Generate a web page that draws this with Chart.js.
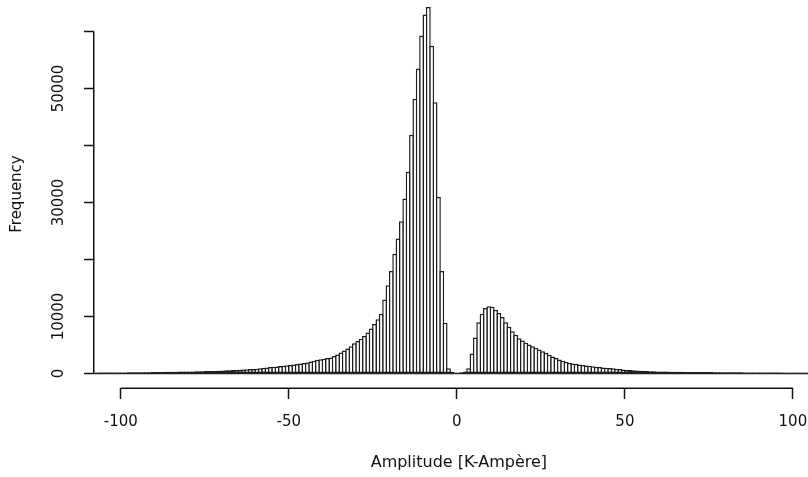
<!DOCTYPE html>
<html>
<head>
<meta charset="utf-8">
<script src="https://cdn.jsdelivr.net/npm/chart.js@4.4.1/dist/chart.umd.min.js"></script>
<style>
  html, body { margin: 0; padding: 0; background: #ffffff; overflow: hidden; }
  #wrap { width: 808px; height: 477px; }
</style>
</head>
<body>
<div id="wrap"><canvas id="c" width="808" height="477"></canvas></div>
<script>
// ---- data (histogram, bin width 1 kA, first bin starts at -108) ----
const binStart = -108;
const binWidth = 1;
const counts = [
  // -108 .. -101
  150, 155, 160, 165, 170, 175, 180, 185,
  // -100 .. -91
  190, 195, 200, 205, 210, 215, 220, 230, 240, 250,
  // -90 .. -81
  260, 270, 280, 290, 300, 310, 320, 330, 340, 350,
  // -80 .. -71
  360, 370, 380, 395, 410, 425, 440, 460, 480, 500,
  // -70 .. -61
  520, 550, 580, 610, 640, 670, 700, 740, 770, 810,
  // -60 .. -51
  850, 920, 1000, 1060, 1120, 1180, 1240, 1300, 1370, 1430,
  // -50 .. -41
  1500, 1580, 1660, 1750, 1850, 1950, 2100, 2250, 2400, 2500,
  // -40 .. -31
  2600, 2700, 2800, 3050, 3350, 3700, 4050, 4400, 4800, 5300,
  // -30 .. -21
  5700, 6100, 6600, 7200, 7900, 8700, 9500, 10500, 13000, 15500,
  // -20 .. -11
  18000, 21000, 23700, 26700, 30700, 35400, 41900, 48200, 53500, 59300,
  // -10 .. -1
  63000, 64300, 57500, 47600, 31000, 18000, 8900, 900, 300, 150,
  // 0 .. 9
  150, 200, 350, 900, 3500, 6300, 9000, 10500, 11500, 11800,
  // 10 .. 19
  11700, 11200, 10600, 9900, 9000, 8200, 7400, 6800, 6200, 5800,
  // 20 .. 29
  5400, 5100, 4800, 4500, 4200, 3900, 3600, 3300, 3000, 2700,
  // 30 .. 39
  2450, 2250, 2050, 1900, 1750, 1650, 1580, 1500, 1420, 1340,
  // 40 .. 49
  1250, 1180, 1120, 1060, 1000, 950, 900, 840, 780, 720,
  // 50 .. 59
  670, 620, 580, 540, 500, 470, 440, 410, 390, 370,
  // 60 .. 69
  350, 340, 330, 320, 310, 300, 290, 285, 280, 275,
  // 70 .. 79
  270, 265, 260, 255, 250, 245, 240, 235, 230, 225,
  // 80 .. 89
  220, 215, 210, 205, 200, 195, 190, 185, 180, 175,
  // 90 .. 99
  170, 168, 165, 162, 160, 158, 155, 152, 150, 148,
  // 100 .. 104
  145, 142, 140, 138, 135
];

const xTickValues = [-100, -50, 0, 50, 100];
const xTickLabels = ['-100', '-50', '0', '50', '100'];
const yTickValues = [0, 10000, 20000, 30000, 40000, 50000, 60000];
const yTickLabels = ['0', '10000', '', '30000', '', '50000', ''];
const xTitle = 'Amplitude [K-Ampère]';
const yTitle = 'Frequency';

const points = counts.map((c, i) => ({ x: binStart + i * binWidth + binWidth / 2, y: c }));

const FONT = '"DejaVu Sans", "Liberation Sans", sans-serif';
const INK = '#111111';

const customAxes = {
  id: 'customAxes',
  beforeDatasetsDraw(chart) {
    // baseline formed by the bottom edges of the histogram rectangles
    const ctx = chart.ctx;
    const xs = chart.scales.x, ys = chart.scales.y;
    const y0 = ys.getPixelForValue(0);
    ctx.save();
    ctx.strokeStyle = '#222222';
    ctx.lineWidth = 1.6;
    ctx.beginPath();
    ctx.moveTo(xs.getPixelForValue(binStart), y0);
    ctx.lineTo(xs.getPixelForValue(binStart + counts.length * binWidth), y0);
    ctx.stroke();
    ctx.restore();
  },
  afterDraw(chart) {
    const ctx = chart.ctx;
    const xs = chart.scales.x, ys = chart.scales.y;
    const area = chart.chartArea;
    ctx.save();
    ctx.strokeStyle = INK;
    ctx.lineWidth = 1.5;
    // y axis line (0 .. 60000)
    const yx = Math.round(area.left) - 0.25;
    ctx.beginPath();
    ctx.moveTo(yx, ys.getPixelForValue(yTickValues[0]));
    ctx.lineTo(yx, ys.getPixelForValue(yTickValues[yTickValues.length - 1]));
    ctx.stroke();
    // x axis line (-100 .. 100)
    const xy = Math.round(area.bottom) + 0.25;
    ctx.beginPath();
    ctx.moveTo(xs.getPixelForValue(xTickValues[0]), xy);
    ctx.lineTo(xs.getPixelForValue(xTickValues[xTickValues.length - 1]), xy);
    ctx.stroke();
    // y tick labels, rotated
    ctx.fillStyle = INK;
    ctx.font = '15px ' + FONT;
    ctx.textAlign = 'center';
    ctx.textBaseline = 'middle';
    yTickValues.forEach((v, i) => {
      const lab = yTickLabels[i];
      if (!lab) return;
      const py = ys.getPixelForValue(v);
      ctx.save();
      ctx.translate(area.left - 35, py);
      ctx.rotate(-Math.PI / 2);
      ctx.fillText(lab, 0, 0);
      ctx.restore();
    });
    // x axis title
    ctx.font = '16px ' + FONT;
    ctx.fillText(xTitle, xs.getPixelForValue(0) + 2, 463);
    ctx.restore();
  }
};

new Chart(document.getElementById('c'), {
  type: 'bar',
  data: {
    datasets: [{
      data: points,
      backgroundColor: '#ffffff',
      borderColor: '#1e1e1e',
      borderWidth: 1.5,
      borderSkipped: false,
      inflateAmount: 0,
      barPercentage: 1.45,
      categoryPercentage: 1.0
    }]
  },
  options: {
    responsive: false,
    animation: false,
    devicePixelRatio: 1,
    layout: { padding: 0 },
    plugins: { legend: { display: false }, tooltip: { enabled: false }, title: { display: false } },
    scales: {
      x: {
        type: 'linear',
        min: -108,
        max: 104.5,
        offset: false,
        afterBuildTicks: (s) => { s.ticks = xTickValues.map(v => ({ value: v })); },
        afterFit: (s) => { s.height = 89; s.paddingLeft = 0; s.paddingRight = 0; },
        border: { display: false },
        grid: {
          offset: false,
          drawOnChartArea: false,
          drawTicks: true,
          tickLength: 11,
          tickColor: INK,
          tickWidth: 1.5,
          color: INK
        },
        ticks: {
          autoSkip: false,
          maxRotation: 0,
          minRotation: 0,
          padding: 14,
          color: INK,
          font: { family: FONT, size: 15 },
          callback: (v) => { const i = xTickValues.indexOf(v); return i >= 0 ? xTickLabels[i] : ''; }
        }
      },
      y: {
        type: 'linear',
        min: -2544,
        max: 65526,
        afterBuildTicks: (s) => { s.ticks = yTickValues.map(v => ({ value: v })); },
        afterFit: (s) => { s.width = 94; s.paddingTop = 0; s.paddingBottom = 0; },
        border: { display: false },
        grid: {
          drawOnChartArea: false,
          drawTicks: true,
          tickLength: 10,
          tickColor: INK,
          tickWidth: 1.5,
          color: INK
        },
        ticks: { display: false },
        title: {
          display: true,
          text: yTitle,
          color: INK,
          font: { family: FONT, size: 15 },
          padding: { top: 8, bottom: 0 }
        }
      }
    }
  },
  plugins: [customAxes]
});
</script>
</body>
</html>
